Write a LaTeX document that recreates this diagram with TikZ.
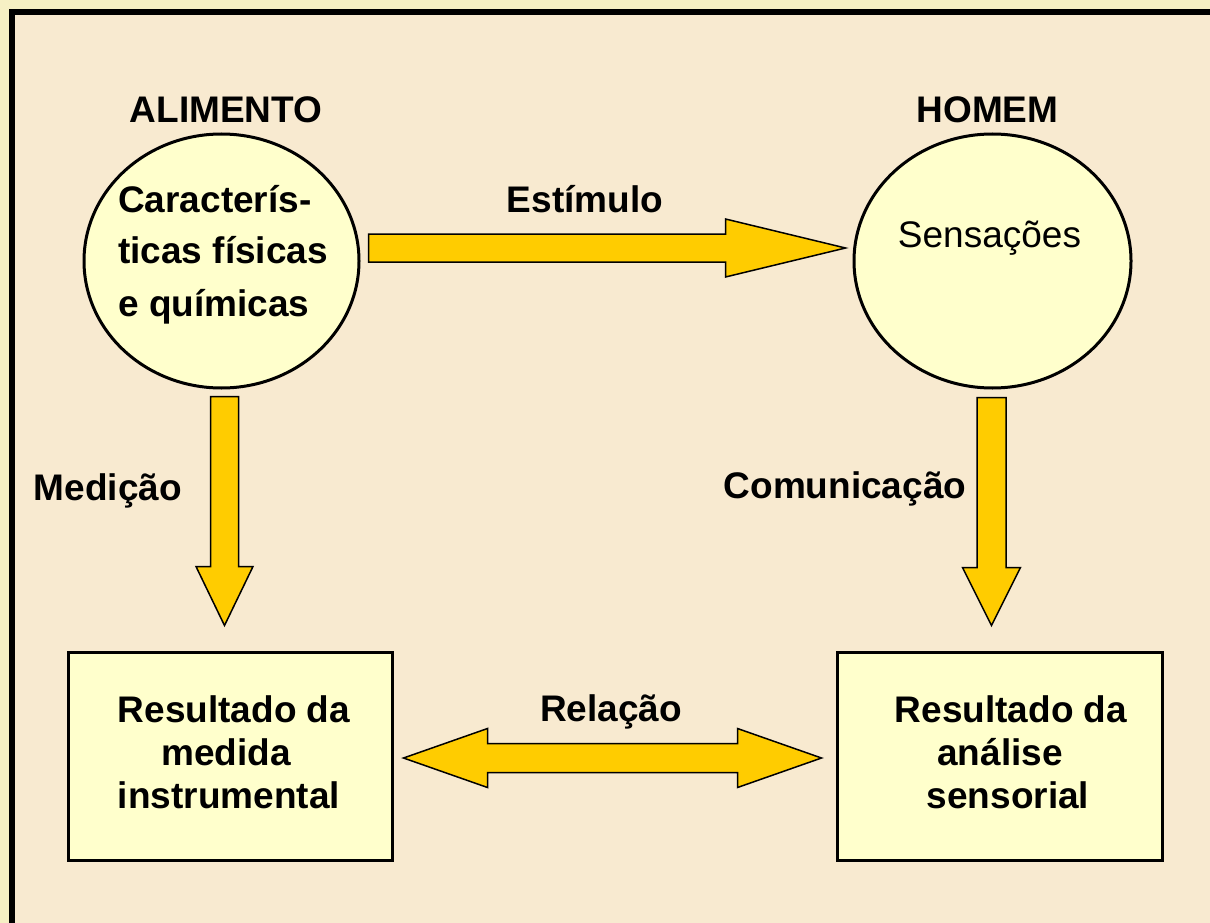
\documentclass[tikz,border=0pt]{standalone}
\usepackage{fontspec}
\setmainfont{Liberation Sans}
\usetikzlibrary{calc,shapes.geometric}
\definecolor{outerbg}{HTML}{F6F0C4}
\definecolor{innerbg}{HTML}{F8EAD0}
\definecolor{shapefill}{HTML}{FFFFCC}
\definecolor{arrowfill}{HTML}{FFCC00}
\tikzset{
  lbl/.style={font=\fontsize{37}{43}\selectfont\bfseries, anchor=base, inner sep=0pt},
  lblw/.style={lbl, anchor=base west},
  plain/.style={font=\fontsize{37}{43}\selectfont, anchor=base, inner sep=0pt},
  oval/.style={ellipse, draw=black, line width=3pt, fill=shapefill, inner sep=0pt},
  resbox/.style={rectangle, draw=black, line width=3pt, fill=shapefill, inner sep=0pt},
  barrow/.style={fill=arrowfill, draw=black, line width=1.5pt, line join=miter}
}
\begin{document}
\begin{tikzpicture}[x=1pt,y=-1pt]
\useasboundingbox (0,0) rectangle (1210,923);
\fill[outerbg] (0,0) rectangle (1210,923);
\fill[innerbg] (12,12) rectangle (1210,923);
\draw[line width=6pt] (12,923) -- (12,12) -- (1210,12);

% shapes
\node[oval, minimum width=275pt, minimum height=254pt] (c1) at (221.5,261) {};
\node[oval, minimum width=277pt, minimum height=254pt] (c2) at (992.5,261) {};
\node[resbox, minimum width=324pt, minimum height=208pt] (r1) at (230,756) {};
\node[resbox, minimum width=325pt, minimum height=208pt] (r2) at (999.5,756) {};

% texts in shapes
\node[lblw] (t1a) at (118,212) {Caracterís-};
\node[lblw] (t1b) at (118,263) {ticas físicas};
\node[lblw] (t1c) at (118,316) {e químicas};
\node[plain] (t2) at (989.5,247) {Sensações};
\node[lbl] (b1a) at (234,722) {Resultado da};
\node[lbl] (b1b) at (226,765) {medida};
\node[lbl] (b1c) at (229,808) {instrumental};
\node[lbl] (b2a) at (1011,722) {Resultado da};
\node[lbl] (b2b) at (1000,765) {análise};
\node[lbl] (b2c) at (1008,808) {sensorial};

% labels
\node[lbl] (alim) at (226,123) {ALIMENTO};
\node[lbl] (homem) at (987.5,123) {HOMEM};
\node[lbl] (estim) at (585,212) {Estímulo};
\node[lbl] (medi) at (108,500) {Medição};
\node[lbl] (comu) at (845,498) {Comunicação};
\node[lbl] (rela) at (611,721) {Relação};

% arrow end points
\coordinate (eA) at ($(c1.east)+(8,-13)$);
\coordinate (eB) at ($(c2.west)+(-7,-13)$);
\coordinate (mA) at ($(c1.south)+(3,7)$);
\coordinate (mB) at ($(mA |- r1.north)+(0,-25)$);
\coordinate (cA) at ($(c2.south)+(-1,8)$);
\coordinate (cB) at ($(cA |- r2.north)+(0,-25)$);
\coordinate (rL) at ($(r1.east)+(10,2)$);
\coordinate (rR) at ($(r2.west)+(-14,2)$);

% Estimulo arrow
\filldraw[barrow] ($(eA)+(0,-14)$) -- ($(eB)+(-120,-14)$) -- ($(eB)+(-120,-29)$) -- (eB)
  -- ($(eB)+(-120,29)$) -- ($(eB)+(-120,14)$) -- ($(eA)+(0,14)$) -- cycle;
% Medicao arrow
\filldraw[barrow] ($(mA)+(-14,0)$) -- ($(mB)+(-14,-59)$) -- ($(mB)+(-28.5,-59)$) -- (mB)
  -- ($(mB)+(28.5,-59)$) -- ($(mB)+(14,-59)$) -- ($(mA)+(14,0)$) -- cycle;
% Comunicacao arrow
\filldraw[barrow] ($(cA)+(-14.5,0)$) -- ($(cB)+(-14.5,-58)$) -- ($(cB)+(-29,-58)$) -- (cB)
  -- ($(cB)+(29,-58)$) -- ($(cB)+(14.5,-58)$) -- ($(cA)+(14.5,0)$) -- cycle;
% Relacao double arrow
\filldraw[barrow] (rL) -- ($(rL)+(84,-29.5)$) -- ($(rL)+(84,-14.5)$) -- ($(rR)+(-84,-14.5)$)
  -- ($(rR)+(-84,-29.5)$) -- (rR) -- ($(rR)+(-84,29.5)$) -- ($(rR)+(-84,14.5)$)
  -- ($(rL)+(84,14.5)$) -- ($(rL)+(84,29.5)$) -- cycle;
\end{tikzpicture}
\end{document}
